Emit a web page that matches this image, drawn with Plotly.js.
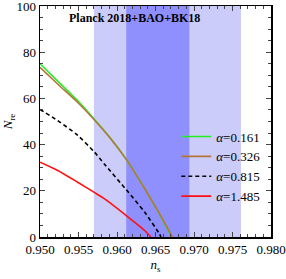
<!DOCTYPE html>
<html><head><meta charset="utf-8">
<script src="https://cdn.plot.ly/plotly-3.0.1.min.js"></script>
<style>html,body{margin:0;padding:0;background:#fff}</style>
</head><body><div id="plot" style="width:286px;height:279px"></div>
<script>
const greenNs = [0.950, 0.9525, 0.955, 0.957, 0.959, 0.9612, 0.9636, 0.9655, 0.9671];
const greenN  = [75.0, 66.8, 58.6, 51.2, 43.4, 33.6, 20.8, 10.0, 0];
const brownNs = [0.950, 0.9525, 0.955, 0.957, 0.959, 0.9612, 0.9636, 0.9655, 0.9672];
const brownN  = [73.4, 65.6, 57.9, 50.9, 43.3, 33.6, 20.9, 10.2, 0];
const blackNs = [0.950, 0.9523, 0.9549, 0.957, 0.9584, 0.9612, 0.9636, 0.9655, 0.9657];
const blackN  = [55.2, 50.4, 44.0, 37.0, 31.4, 20.5, 10.7, 1.4, 0];
const redNs = [0.950, 0.9523, 0.9549, 0.957, 0.9584, 0.9612, 0.9636, 0.9644];
const redN  = [32.4, 28.8, 23.7, 19.4, 16.5, 9.3, 2.8, 0];
const names = ['<i>α</i>=0.161', '<i>α</i>=0.326', '<i>α</i>=0.815', '<i>α</i>=1.485'];
const outerBand = [0.9570, 0.9761];
const innerBand = [0.9612, 0.9694];
const titleText = '<b>Planck 2018+BAO+BK18</b>';

const font = {family: 'Liberation Serif, serif', size: 13, color: '#000'};
const ln = (c, extra) => Object.assign({color: c, width: 1.6, shape: 'spline', smoothing: 0.6}, extra || {});
const traces = [
  {x: greenNs, y: greenN, name: names[0], mode: 'lines', line: ln('#22ee22')},
  {x: brownNs, y: brownN, name: names[1], mode: 'lines', line: ln('#b5753a')},
  {x: blackNs, y: blackN, name: names[2], mode: 'lines', line: ln('#000', {dash: '4px,3px'})},
  {x: redNs, y: redN, name: names[3], mode: 'lines', line: ln('#ff1010')}
];
const layout = {
  width: 286, height: 279,
  margin: {l: 40, r: 15, t: 6, b: 42},
  paper_bgcolor: '#fff', plot_bgcolor: '#fff',
  font: font,
  showlegend: true,
  legend: {x: 0.59, y: 0.50, xanchor: 'left', yanchor: 'top', bgcolor: 'rgba(0,0,0,0)',
           font: {family: 'Liberation Serif, serif', size: 13}, tracegroupgap: 0, itemwidth: 30},
  xaxis: {range: [0.950, 0.980], dtick: 0.005, tickformat: '.3f', ticks: 'inside', ticklen: 5,
          showline: true, linecolor: '#000', linewidth: 1.5, mirror: 'ticks', showgrid: false, zeroline: false,
          tickfont: font, ticklabeloverflow: 'allow',
          minor: {dtick: 0.001, ticks: 'inside', ticklen: 3, showgrid: false},
          title: {text: '<i>n</i><sub>s</sub>', font: {family: 'Liberation Serif, serif', size: 13}, standoff: 3}},
  yaxis: {range: [0, 100], dtick: 20, ticks: 'inside', ticklen: 5,
          showline: true, linecolor: '#000', linewidth: 1.5, mirror: 'ticks', showgrid: false, zeroline: false,
          tickfont: font, ticklabeloverflow: 'allow',
          minor: {dtick: 5, ticks: 'inside', ticklen: 3, showgrid: false},
          title: {text: '<i>N</i><sub>re</sub>', font: {family: 'Liberation Serif, serif', size: 13}, standoff: 11}},
  shapes: [
    {type: 'rect', xref: 'x', yref: 'paper', x0: outerBand[0], x1: outerBand[1], y0: 0, y1: 1,
     fillcolor: '#ccccfa', line: {width: 0}, layer: 'below'},
    {type: 'rect', xref: 'x', yref: 'paper', x0: innerBand[0], x1: innerBand[1], y0: 0, y1: 1,
     fillcolor: '#8f8ffd', line: {width: 0}, layer: 'below'}
  ],
  annotations: [
    {text: titleText, xref: 'paper', yref: 'paper', x: 0.407, y: 0.95, xanchor: 'center', yanchor: 'middle',
     showarrow: false, font: {family: 'Liberation Serif, serif', size: 12, color: '#000'}}
  ]
};
Plotly.newPlot('plot', traces, layout, {displayModeBar: false, staticPlot: true});
</script>
</body></html>
